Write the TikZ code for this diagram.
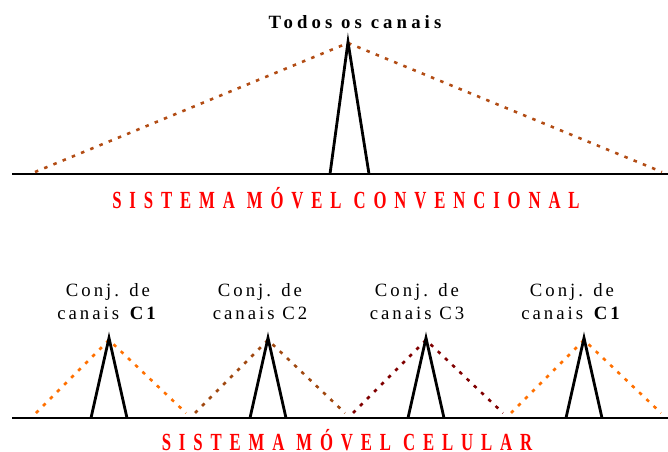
\documentclass[tikz,border=0pt]{standalone}
\usepackage{fontspec}
\setmainfont{Liberation Serif}
\usetikzlibrary{calc}

\definecolor{topbrown}{RGB}{178,76,20}
\definecolor{corange}{RGB}{255,112,0}
\definecolor{cbrown}{RGB}{160,72,16}
\definecolor{cdarkred}{RGB}{128,0,0}
\definecolor{titlered}{RGB}{255,0,0}

\tikzset{
    baseline line/.style={line width=2.4pt, black},
    spike/.style={line width=2.4pt, black, line join=miter},
    coverage/.style={line width=2.2pt, dash pattern=on 3pt off 5.5pt},
    title/.style={inner sep=1pt, anchor=base, font=\fontsize{21}{22}\selectfont\bfseries\addfontfeature{FakeStretch=0.68,LetterSpace=32}, text=titlered},
    setlabel/.style={font=\fontsize{16}{19.5}\selectfont\addfontfeature{LetterSpace=16}, align=center}
}

\begin{document}
\begin{tikzpicture}[x=0.03cm, y=-0.03cm]
    \useasboundingbox (0,0) rectangle (668,452);
    % Conventional system
    \draw[baseline line] (12,174) -- (668,174);
    \draw[coverage, topbrown] (35,172) -- (348,43) -- (662,172);
    \draw[spike] (330,174) -- (348,42) -- (369,174);
    \node[font=\fontsize{16}{18}\selectfont\bfseries\addfontfeature{LetterSpace=22}] (all) at (355,22) {Todos os canais};
    \node[title] (conv) at (346,208) {SISTEMA MÓVEL CONVENCIONAL};

    % Cellular system
    \draw[baseline line] (12,418) -- (668,418);
    % Cells: spike x / colour / label x / label
    \foreach \x/\c/\lx/\lab [count=\i] in {109/corange/108/{\textbf{C1}},
                                           268/cbrown/260/C2,
                                           426/cdarkred/417/C3,
                                           584/corange/572/{\textbf{C1}}}
    {
        \draw[coverage, \c] (\x-73,413) -- (\x,340) -- (\x+77,413);
        \draw[spike] (\x-18,418) -- (\x,338) -- (\x+18,418);
        \node[setlabel] (set\i) at (\lx,302) {Conj. de\\canais \lab};
    }
    \node[title] (cell) at (347,450) {SISTEMA MÓVEL CELULAR};
\end{tikzpicture}
\end{document}
